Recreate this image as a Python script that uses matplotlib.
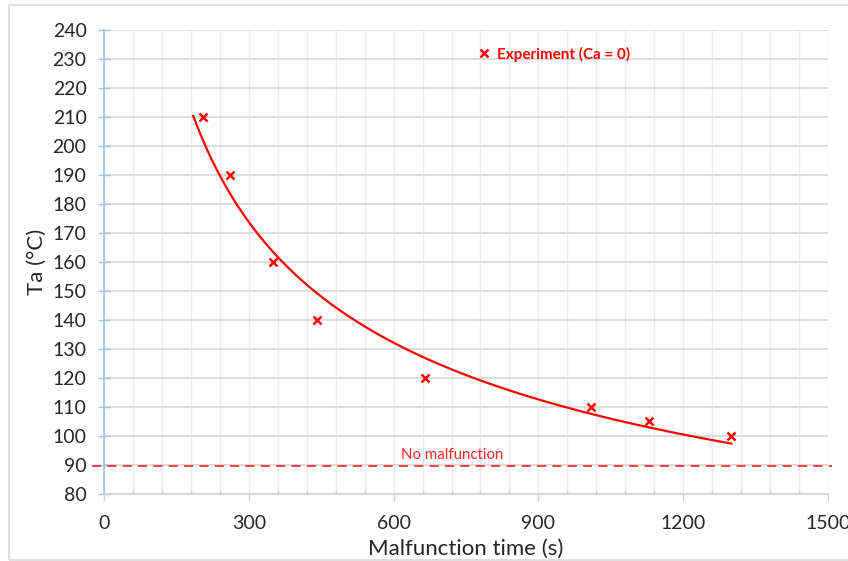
import numpy as np
import matplotlib
matplotlib.use("Agg")
import matplotlib.pyplot as plt
from matplotlib.patches import Rectangle
from matplotlib.ticker import MultipleLocator

plt.rcParams['font.family'] = ['Lato', 'DejaVu Sans']

# Experimental malfunction times (s) and ambient temperatures (°C)
malfunction_time = [205, 261, 350, 441, 665, 1010, 1130, 1300]
ta_values = [210, 190, 160, 140, 120, 110, 105, 100]
no_malfunction_ta = 89.6
fit_range = [185, 1300]

x_ticks = [0, 300, 600, 900, 1200, 1500]
y_ticks = list(range(80, 250, 10))

RED = '#ff0000'
GRID_H = '#d9d9d9'
GRID_V = '#ececec'
AXIS_BLUE = '#9dc3e6'

fig = plt.figure(figsize=(8.48, 5.61), dpi=100)
ax = fig.add_axes([104 / 848, 1 - 494 / 561, 724 / 848, 464 / 561])

# outer chart border
fig.patches.append(Rectangle((9 / 848, 1 / 561), 1.0, 555 / 561,
                             transform=fig.transFigure, fill=False,
                             edgecolor='#d9d9d9', linewidth=1.2))

# power-law trend line fitted to the experiment points
b, ln_a = np.polyfit(np.log(malfunction_time), np.log(ta_values), 1)
xf = np.linspace(fit_range[0], fit_range[1], 300)
ax.plot(xf, np.exp(ln_a) * xf ** b, color=RED, linewidth=1.6, zorder=3)

ax.plot(malfunction_time, ta_values, linestyle='none', marker='x',
        markersize=5.5, markeredgewidth=1.8, color=RED, zorder=4,
        label='Experiment (Ca = 0)')

# reference level without malfunction
ax.axhline(no_malfunction_ta, xmin=-0.016, xmax=1.006, color=RED,
           linewidth=1.3, dashes=(5, 3.5), clip_on=False, alpha=0.8, zorder=2)
ax.text(721, 91.0, 'No malfunction', color=RED, fontsize=10.8,
        ha='center', va='bottom', alpha=0.85)

ax.set_xlim(0, 1500)
ax.set_ylim(80, 240)
ax.set_xticks(x_ticks)
ax.set_yticks(y_ticks)
ax.xaxis.set_minor_locator(MultipleLocator(60))

ax.grid(axis='y', which='major', color=GRID_H, linewidth=1.3, zorder=0)
ax.grid(axis='x', which='minor', color=GRID_V, linewidth=1.0, zorder=0)
ax.grid(axis='x', which='major', color=GRID_V, linewidth=1.0, zorder=0)
ax.set_axisbelow(True)

for side in ['top', 'right']:
    ax.spines[side].set_visible(False)
ax.spines['left'].set_color(AXIS_BLUE)
ax.spines['left'].set_linewidth(1.2)
ax.spines['bottom'].set_color('#d0d0d0')
ax.spines['bottom'].set_linewidth(1.2)

ax.tick_params(axis='y', which='major', direction='inout', length=9,
               width=1.0, color=AXIS_BLUE, labelsize=14, pad=8,
               labelcolor='#262626')
ax.tick_params(axis='x', which='major', direction='out', length=5,
               width=1.0, color='#d0d0d0', labelsize=14, pad=10,
               labelcolor='#262626')
ax.tick_params(axis='x', which='minor', direction='in', length=3,
               width=1.0, color='#d0d0d0')

ax.set_xlabel('Malfunction time (s)', fontsize=16, color='#262626', labelpad=5)
ax.set_ylabel('Ta (°C)', fontsize=16, color='#262626', labelpad=4)

leg = ax.legend(loc='center left', bbox_to_anchor=(0.497, 0.948),
                frameon=False, handlelength=0.8, handletextpad=0.45,
                prop={'weight': 'bold', 'size': 11}, labelcolor=RED)

fig.savefig('out.png', dpi=100)
